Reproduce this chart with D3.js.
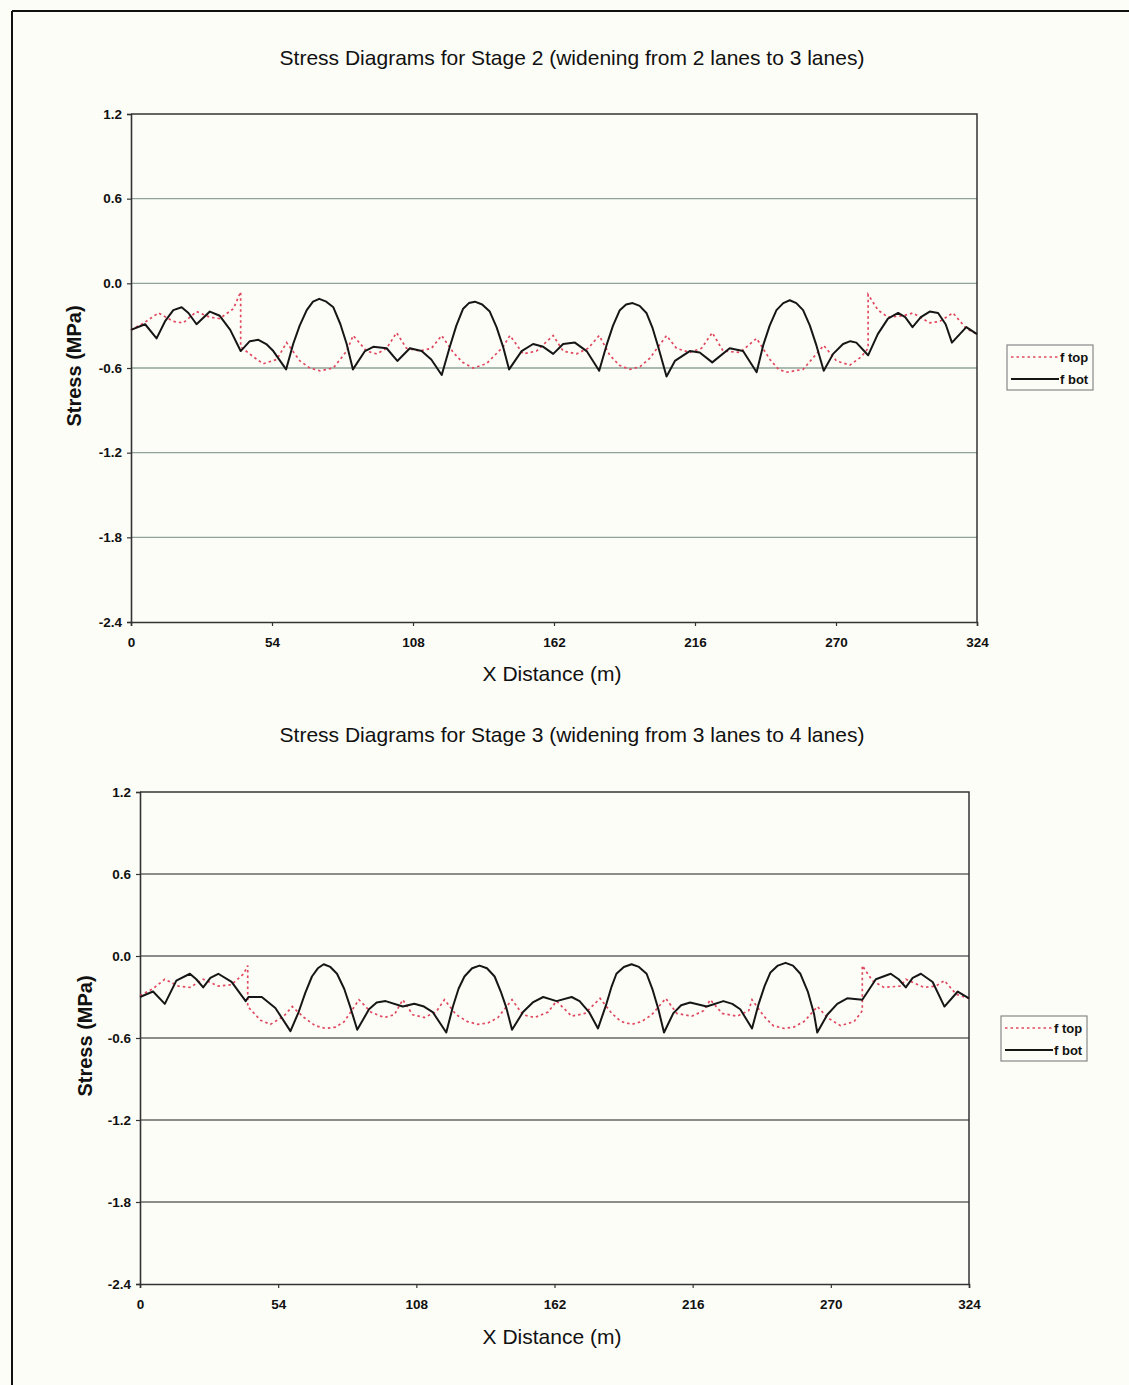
<!DOCTYPE html>
<html>
<head>
<meta charset="utf-8">
<script src="https://cdn.jsdelivr.net/npm/d3@7/dist/d3.min.js"></script>
<style>
  html, body { margin: 0; padding: 0; background: #fdfdf7; }
  svg { display: block; }
  text { font-family: "Liberation Sans", Arial, sans-serif; fill: #111; }
</style>
</head>
<body>
<svg id="chart" width="1129" height="1385"></svg>
<script>
// ---------- DATA ----------
const xTicks = [0, 54, 108, 162, 216, 270, 324];
const yTicks = [-2.4, -1.8, -1.2, -0.6, 0.0, 0.6, 1.2];
const seriesNames = ["f top", "f bot"];
const titles = [
  "Stress Diagrams for Stage 2 (widening from 2 lanes to 3 lanes)",
  "Stress Diagrams for Stage 3 (widening from 3 lanes to 4 lanes)"
];
const xLabel = "X Distance (m)";
const yLabel = "Stress (MPa)";

// Stage 2: [x (m), stress (MPa)]
const stage2Top = [[0,-0.33],[5,-0.28],[10.5,-0.21],[16.2,-0.27],[20,-0.28],[25.1,-0.20],[30.2,-0.24],[34,-0.25],[39.2,-0.18],[42,-0.06],[42,-0.45],[46.8,-0.52],[50.6,-0.57],[55.8,-0.54],[59.6,-0.42],[64.7,-0.55],[68.5,-0.60],[72.4,-0.62],[77.5,-0.60],[82.6,-0.48],[85.1,-0.37],[90.2,-0.48],[94.1,-0.50],[97.9,-0.46],[101.7,-0.35],[105.5,-0.46],[110.6,-0.48],[115.1,-0.46],[119,-0.37],[123.4,-0.49],[127,-0.56],[131,-0.60],[136.1,-0.57],[142.5,-0.45],[145.1,-0.37],[150.2,-0.50],[155.3,-0.48],[161.7,-0.37],[165.5,-0.48],[170.6,-0.50],[175.1,-0.46],[179.3,-0.37],[183.4,-0.51],[187,-0.58],[191,-0.61],[195,-0.59],[198.7,-0.53],[205.1,-0.37],[208.9,-0.46],[214,-0.49],[218.5,-0.46],[222.6,-0.35],[226.8,-0.48],[233.2,-0.49],[239.6,-0.39],[244.7,-0.54],[248,-0.61],[251,-0.63],[257.4,-0.61],[262.5,-0.50],[265.3,-0.44],[270.2,-0.55],[275.3,-0.58],[279.7,-0.52],[282.3,-0.46],[282.3,-0.08],[286.1,-0.19],[289.9,-0.24],[295.7,-0.23],[299.5,-0.21],[305.9,-0.28],[309.7,-0.27],[314.8,-0.21],[319.9,-0.32],[324,-0.36]];
const stage2Bot = [[0,-0.33],[5.4,-0.29],[9.8,-0.39],[13,-0.27],[16.2,-0.19],[19.4,-0.17],[22,-0.21],[25.1,-0.29],[30.2,-0.20],[34,-0.23],[38,-0.33],[42,-0.48],[45.5,-0.41],[48.8,-0.40],[51.8,-0.43],[54.5,-0.48],[59.4,-0.61],[62.1,-0.43],[64.6,-0.30],[67.3,-0.19],[69.7,-0.13],[72.1,-0.11],[74.8,-0.13],[77.5,-0.17],[80.2,-0.29],[82.6,-0.43],[85,-0.61],[89.6,-0.48],[92.8,-0.45],[97.9,-0.46],[102,-0.55],[106.8,-0.46],[111.3,-0.48],[115,-0.54],[119,-0.65],[122.1,-0.45],[124.6,-0.30],[127.2,-0.18],[129.4,-0.14],[131.7,-0.13],[134.5,-0.15],[137.4,-0.20],[140,-0.31],[142.5,-0.45],[144.8,-0.61],[149.6,-0.48],[154,-0.43],[157.9,-0.45],[161.7,-0.50],[165.5,-0.43],[170,-0.42],[174.5,-0.48],[179.3,-0.62],[182.1,-0.44],[184.6,-0.30],[187.2,-0.19],[189.6,-0.15],[192.1,-0.14],[194.8,-0.16],[197.4,-0.21],[199.8,-0.32],[201.9,-0.45],[205.1,-0.66],[208.3,-0.55],[214,-0.48],[217.8,-0.49],[222.6,-0.56],[229.3,-0.46],[234.4,-0.48],[239.6,-0.63],[242.1,-0.44],[244.6,-0.30],[247.2,-0.19],[249.8,-0.14],[252.3,-0.12],[254.8,-0.14],[257.4,-0.19],[260,-0.30],[262.5,-0.44],[265.3,-0.62],[268.9,-0.50],[272.7,-0.43],[275.5,-0.41],[277.8,-0.42],[282.3,-0.51],[286,-0.36],[289.9,-0.25],[293.8,-0.21],[296.5,-0.24],[299.3,-0.31],[302.5,-0.24],[305.9,-0.20],[309.1,-0.21],[312,-0.29],[314.4,-0.42],[319.9,-0.31],[324,-0.36]];

// Stage 3: [x (m), stress (MPa)]
const stage3Top = [[0,-0.29],[5,-0.24],[9.7,-0.17],[15,-0.22],[19.5,-0.23],[24.7,-0.17],[30.6,-0.22],[35.8,-0.21],[40.5,-0.13],[42.1,-0.07],[42.1,-0.37],[47.1,-0.47],[51,-0.50],[56.2,-0.44],[59.5,-0.37],[64.1,-0.45],[68.5,-0.51],[72.6,-0.53],[76.5,-0.52],[79.8,-0.48],[85.6,-0.32],[90.2,-0.41],[95.4,-0.45],[99.4,-0.43],[102.7,-0.32],[106.6,-0.43],[111.1,-0.45],[115.7,-0.41],[119,-0.32],[123.6,-0.43],[128,-0.48],[132.1,-0.50],[136,-0.49],[139.9,-0.45],[145.4,-0.32],[149.7,-0.43],[154.3,-0.45],[159.5,-0.41],[162.8,-0.33],[168.7,-0.44],[173.9,-0.42],[179.8,-0.31],[184.4,-0.42],[188,-0.48],[192.2,-0.50],[196,-0.48],[200,-0.43],[205.5,-0.31],[209.8,-0.42],[215.7,-0.44],[220.3,-0.40],[222.9,-0.32],[227.5,-0.42],[233.4,-0.44],[237.9,-0.40],[239.2,-0.32],[243.8,-0.44],[247.5,-0.51],[251.7,-0.53],[255.5,-0.52],[259.5,-0.48],[264.8,-0.37],[268.6,-0.45],[273.8,-0.51],[279.1,-0.48],[282.3,-0.40],[282.3,-0.07],[286.2,-0.18],[290.8,-0.23],[297.3,-0.22],[299.3,-0.17],[306.5,-0.23],[311,-0.22],[314.4,-0.18],[319,-0.28],[324,-0.31]];
const stage3Bot = [[0,-0.30],[5.1,-0.26],[9.7,-0.35],[14.2,-0.18],[19.5,-0.13],[22,-0.17],[24.7,-0.23],[27.5,-0.16],[30.6,-0.13],[35.8,-0.19],[41.3,-0.33],[42.4,-0.30],[47.6,-0.30],[52.9,-0.38],[58.8,-0.55],[62,-0.41],[64.6,-0.27],[67.2,-0.15],[69.5,-0.09],[71.8,-0.06],[74.4,-0.08],[77,-0.13],[79.8,-0.24],[82.3,-0.38],[84.9,-0.54],[89.5,-0.39],[92.5,-0.34],[96,-0.33],[102.7,-0.37],[107.2,-0.35],[111,-0.37],[114.4,-0.41],[119.7,-0.56],[122.3,-0.37],[124.5,-0.24],[126.8,-0.15],[129.8,-0.09],[132.7,-0.07],[135.6,-0.09],[138.6,-0.15],[141,-0.26],[143.2,-0.38],[145.4,-0.54],[149.7,-0.41],[153.5,-0.34],[157.6,-0.30],[162.8,-0.33],[168.7,-0.30],[171.8,-0.33],[175.5,-0.41],[179,-0.53],[182.3,-0.35],[184.2,-0.23],[186.2,-0.13],[189.1,-0.08],[192.1,-0.06],[195,-0.08],[198,-0.13],[200.4,-0.25],[202.6,-0.39],[204.8,-0.56],[208.4,-0.42],[211.5,-0.36],[215,-0.34],[221.5,-0.37],[228,-0.33],[231.5,-0.35],[234.6,-0.39],[239.2,-0.53],[241.8,-0.35],[244.1,-0.22],[246.4,-0.12],[249.3,-0.07],[252.3,-0.05],[255.2,-0.07],[258.1,-0.13],[261,-0.26],[263.4,-0.42],[264.7,-0.56],[268.6,-0.43],[272.5,-0.35],[276.4,-0.31],[282.3,-0.32],[287.6,-0.17],[293.4,-0.13],[296.5,-0.17],[299.3,-0.23],[302,-0.16],[305.2,-0.13],[309.8,-0.19],[314.4,-0.37],[319.6,-0.26],[324,-0.31]];

// ---------- DRAWING ----------
const svg = d3.select("#chart");
svg.append("rect").attr("width", 1129).attr("height", 1385).attr("fill", "#fdfdf7");

// scanned page frame
svg.append("line").attr("x1", 12).attr("y1", 11).attr("x2", 1129).attr("y2", 11)
  .attr("stroke", "#111").attr("stroke-width", 2);
svg.append("line").attr("x1", 12).attr("y1", 11).attr("x2", 12).attr("y2", 1385)
  .attr("stroke", "#111").attr("stroke-width", 2);

const panels = [
  { title: titles[0], top: stage2Top, bot: stage2Bot,
    L: 131, R: 977, T: 114, B: 622, titleY: 65, xLabY: 681, yLabX: 81,
    grid: "#8fa39a", legend: { x: 1007, y: 345 } },
  { title: titles[1], top: stage3Top, bot: stage3Bot,
    L: 140, R: 969, T: 792, B: 1284, titleY: 742, xLabY: 1344, yLabX: 92,
    grid: "#666666", legend: { x: 1001, y: 1016 } }
];

panels.forEach(p => {
  const g = svg.append("g");
  const x = d3.scaleLinear().domain([0, 324]).range([p.L, p.R]);
  const y = d3.scaleLinear().domain([-2.4, 1.2]).range([p.B, p.T]);

  // gridlines
  g.selectAll(".grid").data(yTicks.filter(v => v > -2.4 && v < 1.2)).join("line")
    .attr("x1", p.L).attr("x2", p.R)
    .attr("y1", d => y(d)).attr("y2", d => y(d))
    .attr("stroke", p.grid).attr("stroke-width", 1.3);

  // plot border (top, right)
  g.append("path")
    .attr("d", `M${p.L},${p.T}H${p.R}V${p.B}`)
    .attr("fill", "none").attr("stroke", "#333").attr("stroke-width", 1.5);

  // axes
  const yAxis = d3.axisLeft(y).tickValues(yTicks).tickFormat(d => d.toFixed(1))
    .tickSize(4).tickPadding(5);
  const yg = g.append("g").attr("transform", `translate(${p.L},0)`).call(yAxis);
  const xAxis = d3.axisBottom(x).tickValues(xTicks).tickFormat(d3.format("d"))
    .tickSize(4).tickPadding(11);
  const xg = g.append("g").attr("transform", `translate(0,${p.B})`).call(xAxis);
  [yg, xg].forEach(a => {
    a.select(".domain").attr("stroke", "#333").attr("stroke-width", 1.6);
    a.selectAll(".tick line").attr("stroke", "#333").attr("stroke-width", 1.2);
    a.selectAll(".tick text").attr("font-size", 13.5).attr("font-weight", "bold")
      .attr("font-family", "'Liberation Sans', Arial, sans-serif").attr("fill", "#111");
  });

  // lines
  const line = d3.line().x(d => x(d[0])).y(d => y(d[1]));
  g.append("path").datum(p.top).attr("d", line)
    .attr("fill", "none").attr("stroke", "#e0485f").attr("stroke-width", 1.7)
    .attr("stroke-dasharray", "2.5,3");
  g.append("path").datum(p.bot).attr("d", line)
    .attr("fill", "none").attr("stroke", "#161616").attr("stroke-width", 2)
    .attr("stroke-linejoin", "round");

  // titles
  g.append("text").attr("x", 572).attr("y", p.titleY).attr("text-anchor", "middle")
    .attr("font-size", 21).text(p.title);
  g.append("text").attr("x", 552).attr("y", p.xLabY).attr("text-anchor", "middle")
    .attr("font-size", 21).text(xLabel);
  const yc = (p.T + p.B) / 2 - 2;
  g.append("text").attr("transform", `translate(${p.yLabX},${yc}) rotate(-90)`)
    .attr("text-anchor", "middle").attr("font-size", 20).attr("font-weight", "bold")
    .text(yLabel);

  // legend
  const lg = g.append("g").attr("transform", `translate(${p.legend.x},${p.legend.y})`);
  lg.append("rect").attr("width", 86).attr("height", 45)
    .attr("fill", "#fdfdf7").attr("stroke", "#888").attr("stroke-width", 1.2);
  lg.append("line").attr("x1", 4).attr("x2", 52).attr("y1", 12).attr("y2", 12)
    .attr("stroke", "#e0485f").attr("stroke-width", 1.6).attr("stroke-dasharray", "2.5,3");
  lg.append("line").attr("x1", 4).attr("x2", 52).attr("y1", 34).attr("y2", 34)
    .attr("stroke", "#161616").attr("stroke-width", 2);
  lg.append("text").attr("x", 53).attr("y", 17).attr("font-size", 13)
    .attr("font-weight", "bold").text(seriesNames[0]);
  lg.append("text").attr("x", 53).attr("y", 39).attr("font-size", 13)
    .attr("font-weight", "bold").text(seriesNames[1]);
});
</script>
</body>
</html>
